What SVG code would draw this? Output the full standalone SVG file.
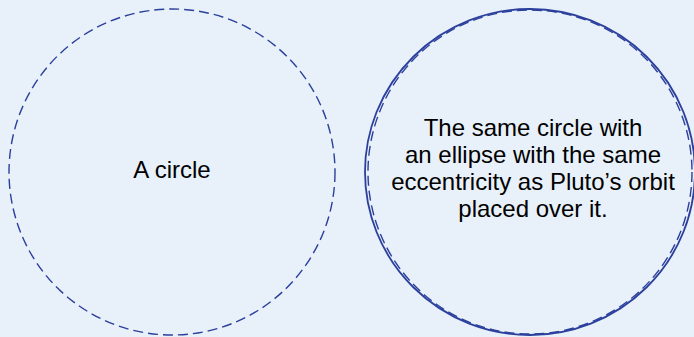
<svg xmlns="http://www.w3.org/2000/svg" width="694" height="337" viewBox="0 0 694 337">
<style>
.dash{fill:none;stroke:#2b3f9c;stroke-width:1.4;stroke-dasharray:10 5}
.solid{fill:none;stroke:#2b3f9c;stroke-width:1.8}
.lbl{font-family:"Liberation Sans",Arial,sans-serif;font-size:24px;fill:#000;text-anchor:middle}
</style>
<rect width="694" height="337" fill="#e8f0f9"/>
<g id="circle-left">
<circle class="dash" cx="172" cy="172" r="163"/>
<text class="lbl" x="172" y="178">A circle</text>
</g>
<g id="circle-right">
<circle class="dash" cx="530" cy="172" r="162"/>
<ellipse class="solid" cx="530" cy="172" rx="165" ry="163"/>
<text class="lbl" x="533" y="136">The same circle with</text>
<text class="lbl" x="533" y="163">an ellipse with the same</text>
<text class="lbl" x="533" y="190">eccentricity as Pluto’s orbit</text>
<text class="lbl" x="533" y="217">placed over it.</text>
</g>
<g id="connectors"/>
</svg>
